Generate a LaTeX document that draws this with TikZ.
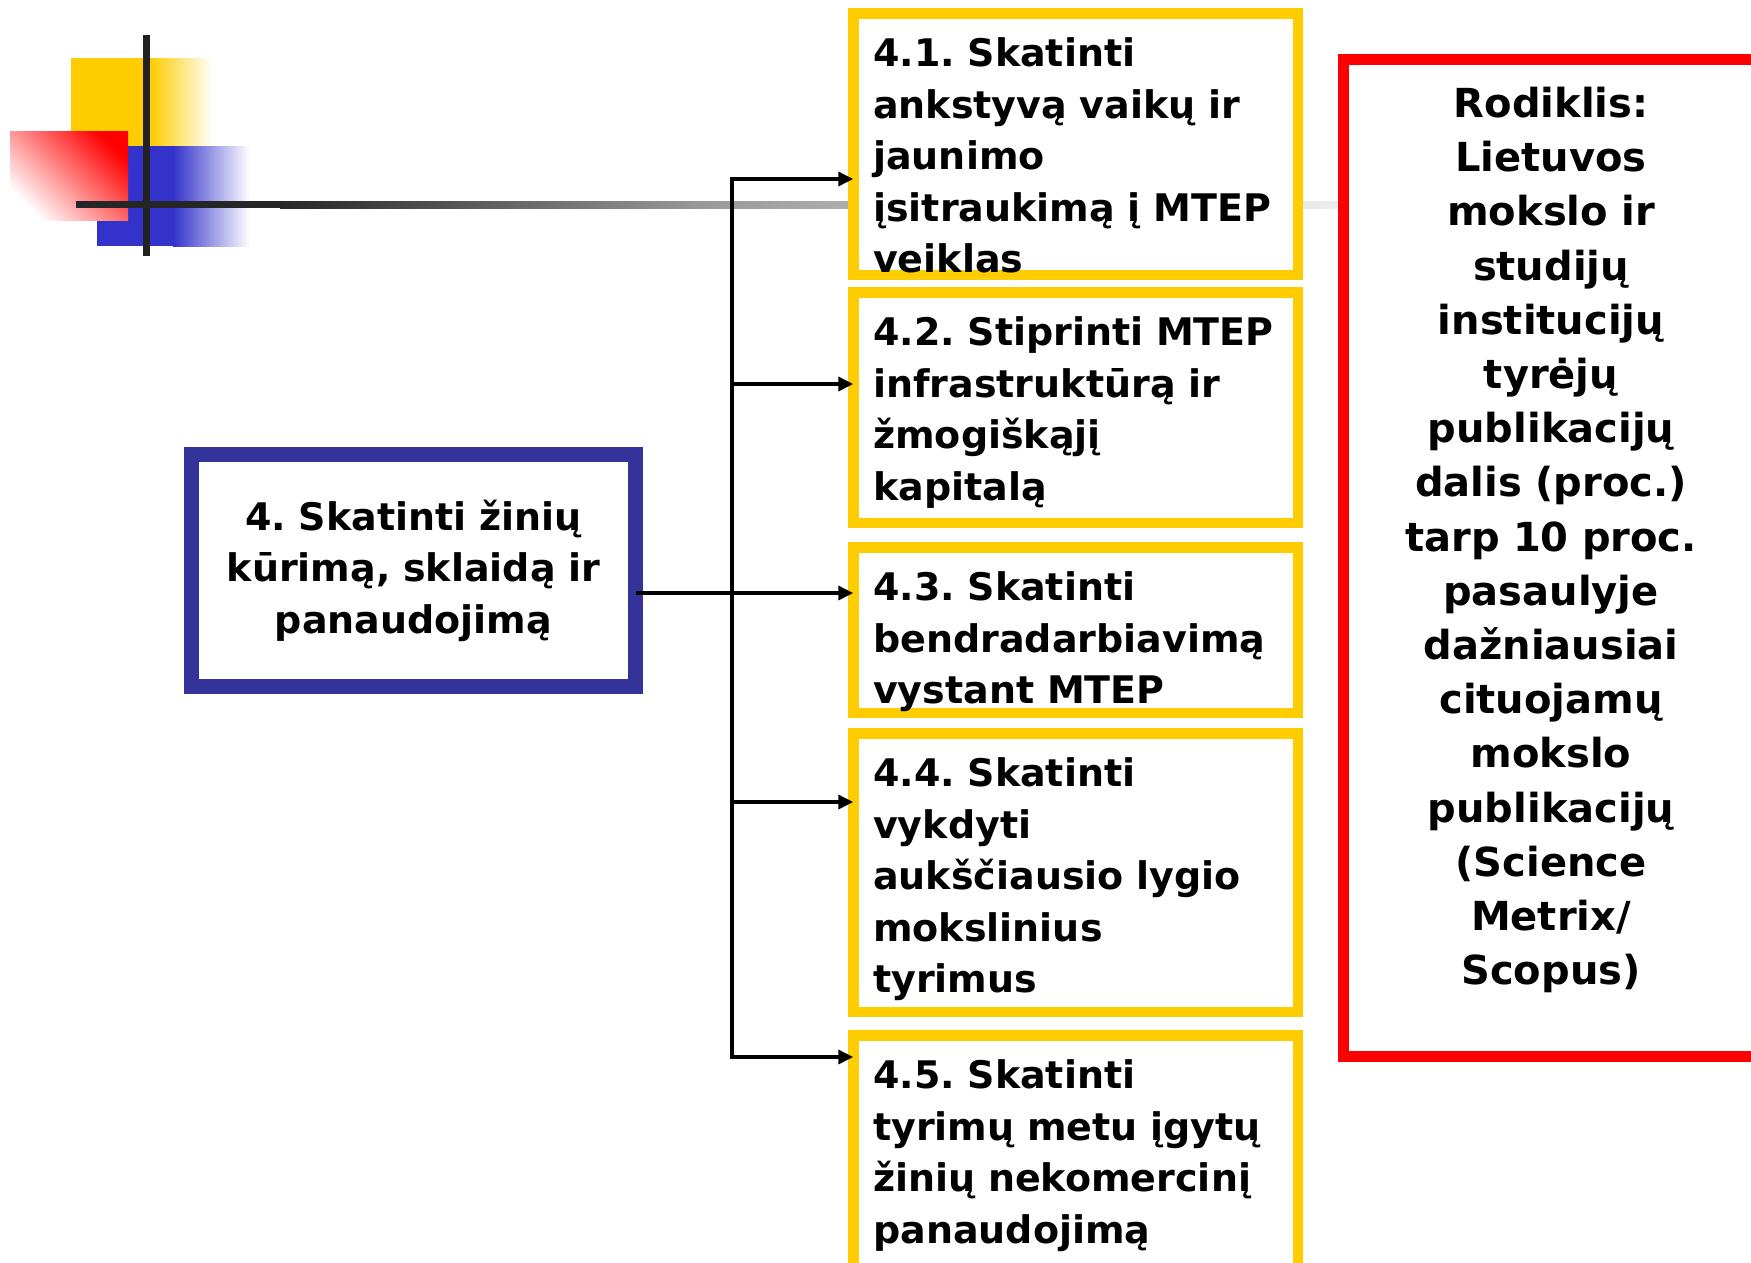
\documentclass[tikz,border=0pt]{standalone}
\usepackage{fontspec}
\newfontfamily\dvs{DejaVu Sans}
\usetikzlibrary{arrows.meta,calc}
\frenchspacing
\definecolor{yel}{HTML}{FFCC00}
\definecolor{blu}{HTML}{3333CC}
\definecolor{bbord}{HTML}{333399}
\definecolor{rbord}{HTML}{FF0000}
\definecolor{deco}{HTML}{222222}
\definecolor{g1}{HTML}{262626}
\definecolor{g2}{HTML}{999999}
\definecolor{g3}{HTML}{EEEEEE}
\tikzset{
  ybox/.style={draw=yel, line width=10.5pt, fill=white, inner sep=0pt, outer sep=0pt, minimum width=444.5pt},
  rbox/.style={draw=rbord, line width=11pt, fill=white, inner sep=0pt, outer sep=0pt},
  bbox/.style={draw=bbord, line width=15pt, fill=white, inner sep=0pt, outer sep=0pt},
  ytext/.style={anchor=base west, inner sep=0pt, text width=430pt, align=left,
    font=\dvs\bfseries\frenchspacing\fontsize{38}{51.5}\selectfont},
  ctext/.style={anchor=base, inner sep=0pt, text width=430pt, align=center,
    font=\dvs\bfseries\frenchspacing\fontsize{38}{51.5}\selectfont},
  conn/.style={draw=black, line width=3.5pt, line join=miter},
  arr/.style={conn, -{Triangle[length=15pt,width=14pt]}},
}
\begin{document}
\begin{tikzpicture}[x=1pt,y=-1pt]
\useasboundingbox (0,0) rectangle (1751,1262);
% decoration
\fill[yel] (71,58) rectangle (150,146);
\shade[left color=yel, right color=white] (150,58) rectangle (213,146);
\fill[blu] (97,146) rectangle (173,246);
\shade[left color=blu, right color=white] (173,146) rectangle (250,246);
\shade[shading=axis, top color=red, bottom color=white, shading angle=-45] (10,131) rectangle (128,220);
\fill[deco] (143,35) rectangle (150,256);
% grey line
\fill[g1] (76,201) rectangle (280,208);
\shade[left color=g1, right color=g2] (280,201) rectangle (700,208);
\shade[left color=g2, right color=g3] (700,201) rectangle (1340,208);
% boxes
\node[bbox, minimum width=444pt, minimum height=232pt] (b4) at (413.5,570.5) {};
\node[ybox, minimum height=261.5pt] (b41) at (1075.5,144) {};
\node[ybox, minimum height=230.5pt] (b42) at (1075.5,407.5) {};
\node[ybox, minimum height=165.5pt] (b43) at (1075.5,630) {};
\node[ybox, minimum height=278.5pt] (b44) at (1075.5,872.5) {};
\node[ybox, minimum height=239.5pt] (b45) at (1075.5,1155) {};
\node[rbox, minimum width=431pt, minimum height=997pt] (r) at (1559,558) {};
% connectors
\coordinate (j1) at (732,179);
\coordinate (j2) at (732,384);
\coordinate (j3) at (732,593);
\coordinate (j4) at (732,802);
\coordinate (j5) at (732,1057);
\draw[arr] (j5) -- (j1) -- (j1 -| b41.west);
\draw[arr] (j1) -- (j5) -- (j5 -| b45.west);
\draw[arr] (j2) -- (j2 -| b42.west);
\draw[arr] (b4.east |- j3) -- (j3 -| b43.west);
\draw[arr] (j4) -- (j4 -| b44.west);
% texts
\node[ytext] (t41) at (873,66.5) {4.1. Skatinti\\ankstyvą vaikų ir\\jaunimo\\įsitraukimą į MTEP\\veiklas};
\node[ytext] (t42) at (873,345.5) {4.2. Stiprinti MTEP\\infrastruktūrą ir\\žmogiškąjį\\kapitalą};
\node[ytext] (t43) at (873,600.5) {4.3. Skatinti\\bendradarbiavimą\\vystant MTEP};
\node[ytext] (t44) at (873,786.5) {4.4. Skatinti\\vykdyti\\aukščiausio lygio\\mokslinius\\tyrimus};
\node[ytext] (t45) at (873,1088.5) {4.5. Skatinti\\tyrimų metu įgytų\\žinių nekomercinį\\panaudojimą};
\node[ctext] (t4) at (413.5,530) {4. Skatinti žinių\\kūrimą, sklaidą ir\\panaudojimą};
\node[ctext, text width=400pt, font=\dvs\bfseries\frenchspacing\fontsize{40}{54.2}\selectfont] (tr) at (1551,117.5) {Rodiklis:\\Lietuvos\\mokslo ir\\studijų\\institucijų\\tyrėjų\\publikacijų\\dalis (proc.)\\tarp 10 proc.\\pasaulyje\\dažniausiai\\cituojamų\\mokslo\\publikacijų\\(Science\\Metrix/\\Scopus)};
\end{tikzpicture}
\end{document}
